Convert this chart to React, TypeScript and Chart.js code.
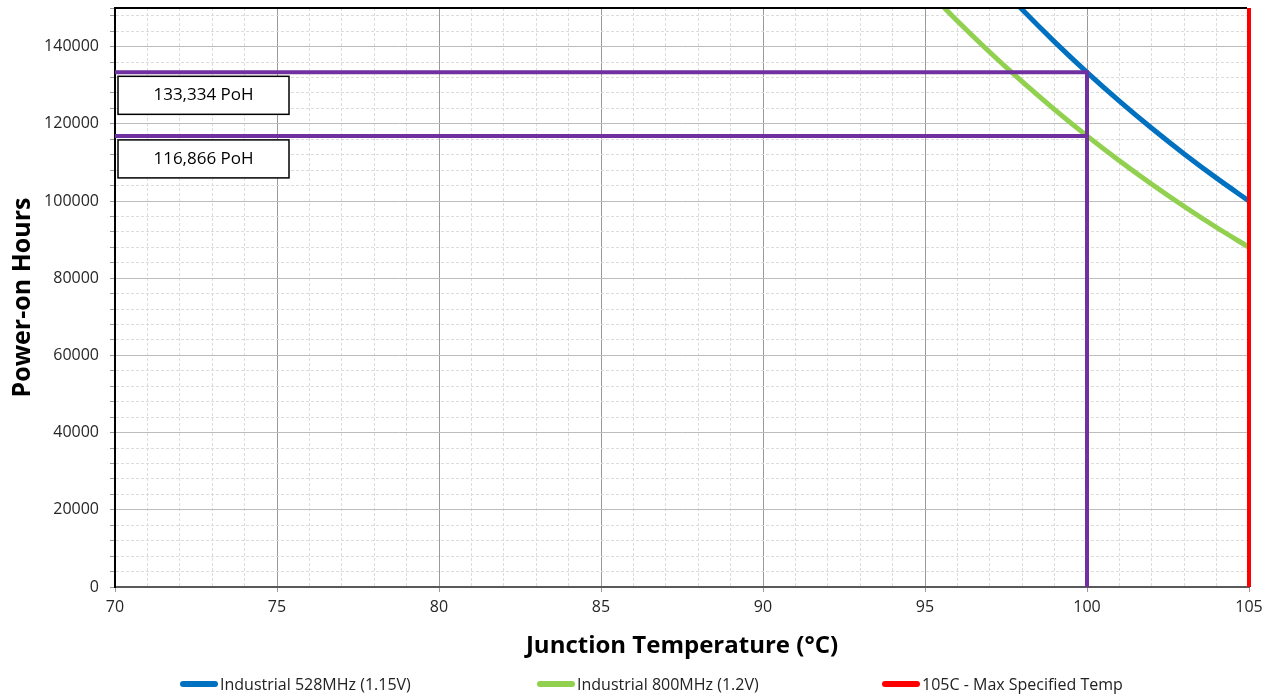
import React, { useEffect, useRef } from 'react';
import { Chart, registerables } from 'chart.js';

Chart.register(...registerables);

// ---- data ----
const temps528 = [97, 98, 99, 100, 101, 102, 103, 104, 105];
const hours528 = [158450, 149590, 141230, 133334, 125874, 118838, 112193, 105921, 100000];
const temps800 = [95, 96, 97, 98, 99, 100, 101, 102, 103, 104, 105];
const hours800 = [155187, 146630, 138544, 130905, 123686, 116866, 110410, 104322, 98570, 93135, 88000];
const maxTemps = [105, 105];
const maxTempHours = [0, 150000];
const markerTemp = 100;
const markerHours = [133334, 116866];
const markerLabels = ['133,334 PoH', '116,866 PoH'];
const seriesNames = ['Industrial 528MHz (1.15V)', 'Industrial 800MHz (1.2V)', '105C - Max Specified Temp'];
const seriesColors = ['#0070C0', '#92D050', '#FF0000'];
const xRange = [70, 105];
const yRange = [0, 150000];
const xMajorStep = 5;
const xMinorStep = 1;
const yMajorStep = 20000;
const yMinorStep = 4000;
const xTitle = 'Junction Temperature (°C)';
const yTitle = 'Power-on Hours';

const FONT = "'Open Sans', sans-serif";

const zip = (xs: number[], ys: number[]) => xs.map((x, i) => ({ x, y: ys[i] }));

const stepTicks = (min: number, max: number, step: number) => {
  const out: { value: number }[] = [];
  for (let v = min; v <= max + 1e-9; v += step) out.push({ value: v });
  if (out[out.length - 1].value < max) out.push({ value: max });
  return out;
};
const isMajor = (v: number, step: number) => Math.abs(Math.round(v) % step) === 0;

const overlayPlugin = {
  id: 'overlay',
  afterDatasetsDraw(chart: any) {
    const { ctx, chartArea, scales } = chart;
    const xs = scales.x;
    const ys = scales.y;
    ctx.save();
    ctx.strokeStyle = '#000';
    ctx.lineWidth = 2;
    ctx.beginPath();
    ctx.moveTo(chartArea.left, chartArea.top);
    ctx.lineTo(chartArea.right - 2, chartArea.top);
    ctx.stroke();
    markerHours.forEach((h, i) => {
      const left = xs.getPixelForValue(xRange[0]) + 3;
      const top = ys.getPixelForValue(h) + 4;
      const w = 171;
      const hgt = 38;
      ctx.fillStyle = '#fff';
      ctx.fillRect(left, top, w, hgt);
      ctx.strokeStyle = '#000';
      ctx.lineWidth = 1.5;
      ctx.strokeRect(left, top, w, hgt);
      ctx.fillStyle = '#000';
      ctx.font = `17px ${FONT}`;
      ctx.textAlign = 'center';
      ctx.textBaseline = 'middle';
      ctx.fillText(markerLabels[i], left + w / 2, top + hgt / 2);
    });
    ctx.restore();
  },
};

export default function App() {
  const ref = useRef<HTMLCanvasElement>(null);
  useEffect(() => {
    if (!ref.current) return;
    const chart = new Chart(ref.current, {
      type: 'line',
      data: {
        datasets: [
          {
            label: 'marker-hi',
            data: [
              { x: xRange[0], y: markerHours[0] },
              { x: markerTemp, y: markerHours[0] },
              { x: markerTemp, y: yRange[0] },
            ],
            borderColor: '#7030A0',
            borderWidth: 4,
            pointRadius: 0,
            clip: 4,
            order: 1,
          },
          {
            label: 'marker-lo',
            data: [
              { x: xRange[0], y: markerHours[1] },
              { x: markerTemp, y: markerHours[1] },
            ],
            borderColor: '#7030A0',
            borderWidth: 4,
            pointRadius: 0,
            order: 1,
          },
          {
            label: seriesNames[0],
            data: zip(temps528, hours528),
            borderColor: seriesColors[0],
            borderWidth: 5,
            pointRadius: 0,
            cubicInterpolationMode: 'monotone',
            order: 2,
          },
          {
            label: seriesNames[1],
            data: zip(temps800, hours800),
            borderColor: seriesColors[1],
            borderWidth: 5,
            pointRadius: 0,
            cubicInterpolationMode: 'monotone',
            order: 2,
          },
          {
            label: seriesNames[2],
            data: zip(maxTemps, maxTempHours),
            borderColor: seriesColors[2],
            borderWidth: 4,
            pointRadius: 0,
            clip: 4,
            order: 0,
          },
        ],
      },
      options: {
        animation: false,
        responsive: false,
        layout: { padding: { left: 4, top: 8, right: 26, bottom: 33 } },
        plugins: {
          legend: { display: false },
          tooltip: { enabled: false },
        },
        scales: {
          x: {
            type: 'linear',
            min: xRange[0],
            max: xRange[1],
            afterBuildTicks: (s: any) => {
              s.ticks = stepTicks(xRange[0], xRange[1], xMinorStep);
            },
            afterFit: (s: any) => {
              s.height = 78;
              s.paddingLeft = 0;
              s.paddingRight = 0;
            },
            ticks: {
              autoSkip: false,
              maxRotation: 0,
              padding: 6,
              color: '#262626',
              font: { family: FONT, size: 16 },
              callback: (v: any) => (isMajor(Number(v), xMajorStep) ? String(v) : ''),
            },
            grid: {
              color: (c: any) => (c.tick && isMajor(c.tick.value, xMajorStep) ? '#9a9a9a' : '#dcdcdc'),
              lineWidth: 1,
              tickLength: 5,
              tickColor: (c: any) => (c.tick && isMajor(c.tick.value, xMajorStep) ? '#9a9a9a' : 'rgba(0,0,0,0)'),
            },
            border: {
              color: '#595959',
              width: 2,
              dash: (c: any) => (c.tick && !isMajor(c.tick.value, xMajorStep) ? [3, 2] : []),
            },
            title: {
              display: true,
              text: xTitle,
              color: '#000',
              font: { family: FONT, size: 24, weight: 'bold' },
            },
          },
          y: {
            type: 'linear',
            min: yRange[0],
            max: yRange[1],
            afterBuildTicks: (s: any) => {
              s.ticks = stepTicks(yRange[0], yRange[1], yMinorStep);
            },
            afterFit: (s: any) => {
              s.width = 111;
              s.paddingTop = 0;
              s.paddingBottom = 0;
            },
            ticks: {
              autoSkip: false,
              padding: 11,
              color: '#262626',
              font: { family: FONT, size: 16 },
              callback: (v: any) => {
                const n = Number(v);
                return isMajor(n, yMajorStep) && n < yRange[1] ? String(n) : '';
              },
            },
            grid: {
              color: (c: any) => (c.tick && isMajor(c.tick.value, yMajorStep) ? '#bdbdbd' : '#dcdcdc'),
              lineWidth: 1,
              tickLength: 5,
              tickColor: '#9a9a9a',
            },
            border: {
              color: '#000',
              width: 2,
              dash: (c: any) => (c.tick && !isMajor(c.tick.value, yMajorStep) ? [3, 2] : []),
            },
            title: {
              display: true,
              text: yTitle,
              color: '#000',
              font: { family: FONT, size: 25, weight: 'bold' },
            },
          },
        },
      },
      plugins: [overlayPlugin],
    } as any);
    return () => chart.destroy();
  }, []);

  const legendLefts = [180, 537, 882];

  return (
    <div style={{ position: 'fixed', left: 0, top: 0, width: 1275, height: 698, background: '#fff' }}>
      <canvas ref={ref} width={1275} height={698} style={{ display: 'block' }} />
      {seriesNames.map((name, i) => (
        <div
          key={name}
          style={{
            position: 'absolute',
            left: legendLefts[i],
            top: 673,
            height: 22,
            display: 'flex',
            alignItems: 'center',
            fontFamily: FONT,
            fontSize: 16,
            color: '#222',
            whiteSpace: 'nowrap',
          }}
        >
          <span
            style={{
              display: 'inline-block',
              width: 38,
              height: 6,
              borderRadius: 3,
              background: seriesColors[i],
              marginRight: 2,
            }}
          />
          <span>{name}</span>
        </div>
      ))}
    </div>
  );
}
